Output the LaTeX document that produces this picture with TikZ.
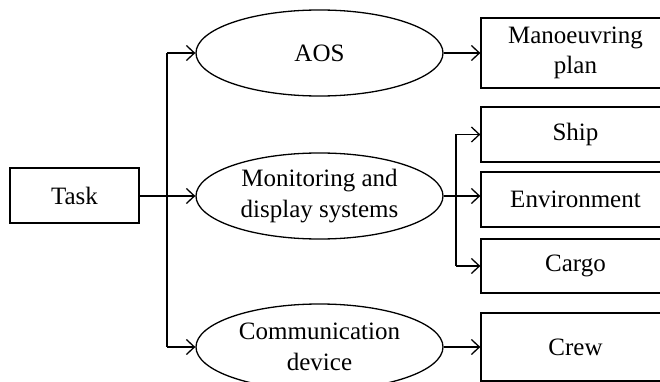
\documentclass[tikz,border=0pt]{standalone}
\usepackage{fontspec}
\setmainfont{Liberation Serif}
\usetikzlibrary{shapes.geometric,arrows.meta}
\tikzset{
  lw/.style={line width=1.3pt},
  boxnode/.style={draw,lw,rectangle,inner sep=0pt,align=center,
    font=\fontsize{25}{30}\selectfont},
  ovalnode/.style={draw,lw,ellipse,inner sep=0pt,minimum width=247pt,minimum height=86pt,
    align=center,font=\fontsize{25}{31}\selectfont},
  conn/.style={lw,-{Straight Barb[length=8pt,width=15pt,line width=1.3pt]}},
  plain/.style={lw}
}
\begin{document}
\begin{tikzpicture}[x=1pt,y=-1pt]
\useasboundingbox (0,0) rectangle (660,382);
\node[boxnode,minimum width=129pt,minimum height=55pt] (task) at (74.5,195.5) {Task};
\node[ovalnode] (aos) at (319.5,53) {AOS};
\node[ovalnode] (mon) at (319.5,196) {Monitoring and\\display systems};
\node[ovalnode] (com) at (319.5,347) {Communication\\device};
\node[boxnode,minimum width=189pt,minimum height=70pt] (man) at (575.5,53) {Manoeuvring\\plan};
\node[boxnode,minimum width=189pt,minimum height=55pt] (ship) at (575.5,134.5) {Ship};
\node[boxnode,minimum width=189pt,minimum height=55pt] (env) at (575.5,199.5) {Environment};
\node[boxnode,minimum width=189pt,minimum height=54pt] (cargo) at (575.5,266) {Cargo};
\node[boxnode,minimum width=189pt,minimum height=68pt] (crew) at (575.5,347) {Crew};
\coordinate (j1) at (167,196);
\coordinate (j2) at (456,196);
% trunk
\draw[conn] (task.east |- j1) -- (mon.west);
\draw[plain] (j1 |- aos.west) -- (j1 |- com.west);
\draw[conn] (j1 |- aos.west) -- (aos.west);
\draw[conn] (j1 |- com.west) -- (com.west);
% right side
\draw[conn] (aos.east) -- (man.west);
\draw[conn] (com.east) -- (crew.west);
\draw[conn] (mon.east) -- (env.west |- mon.east);
\draw[plain] (j2 |- ship.west) -- (j2 |- cargo.west);
\draw[conn] (j2 |- ship.west) -- (ship.west);
\draw[conn] (j2 |- cargo.west) -- (cargo.west);
\end{tikzpicture}
\end{document}
